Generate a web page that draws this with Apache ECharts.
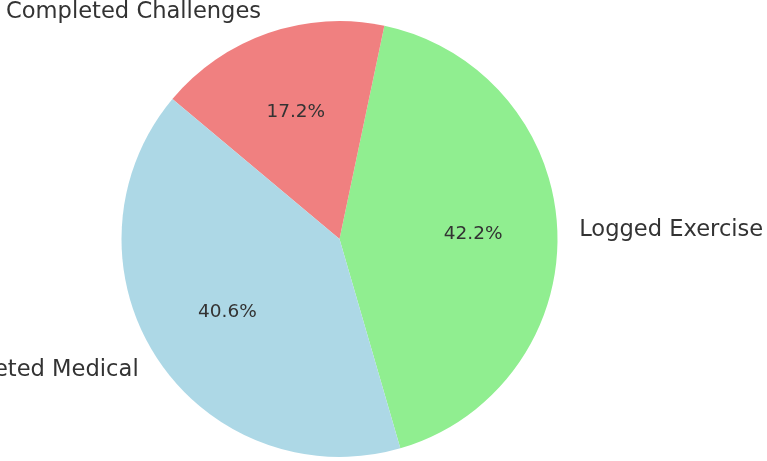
<!DOCTYPE html>
<html>
<head>
<meta charset="utf-8">
<script src="https://cdn.jsdelivr.net/npm/echarts@6/dist/echarts.min.js"></script>
<style>
  html, body { margin: 0; padding: 0; background: #fff; }
  #chart { width: 767px; height: 461px; }
</style>
</head>
<body>
<div id="chart"></div>
<script>
// slice order is counter-clockwise, like the source
const categories = ['Logged Exercise', 'Completed Challenges', 'Completed Medical']
const shares = [42.2, 17.2, 40.6]
const colors = ['#90ee90', '#f08080', '#add8e6']

const R = 218
const center = [339.5, 239]

const slices = categories.map((name, i) => ({
  name: name,
  value: shares[i],
  itemStyle: { color: colors[i] }
}))

const chart = echarts.init(document.getElementById('chart'))
chart.setOption({
  animation: false,
  series: [
    {
      type: 'pie',
      center: center,
      radius: [0, R],
      startAngle: -73.8,
      clockwise: false,
      avoidLabelOverlap: false,
      silent: true,
      data: slices,
      label: {
        show: true,
        position: 'outside',
        formatter: '{b}',
        fontFamily: 'DejaVu Sans',
        fontSize: 22.6,
        color: '#333',
        width: 330,
        overflow: 'none',
        distanceToLabelLine: 0
      },
      labelLine: { show: false, length: R * 0.1, length2: 0 }
    },
    {
      // transparent ring only used to place the percent labels at 0.6 R
      type: 'pie',
      center: center,
      radius: [R * 0.4, R * 0.8],
      startAngle: -73.8,
      clockwise: false,
      silent: true,
      data: slices.map(s => ({ name: s.name, value: s.value, itemStyle: { color: 'transparent' } })),
      label: {
        show: true,
        position: 'inside',
        formatter: p => p.value.toFixed(1) + '%',
        fontFamily: 'DejaVu Sans',
        fontSize: 18.5,
        color: '#333'
      },
      labelLine: { show: false }
    }
  ]
})
</script>
</body>
</html>
